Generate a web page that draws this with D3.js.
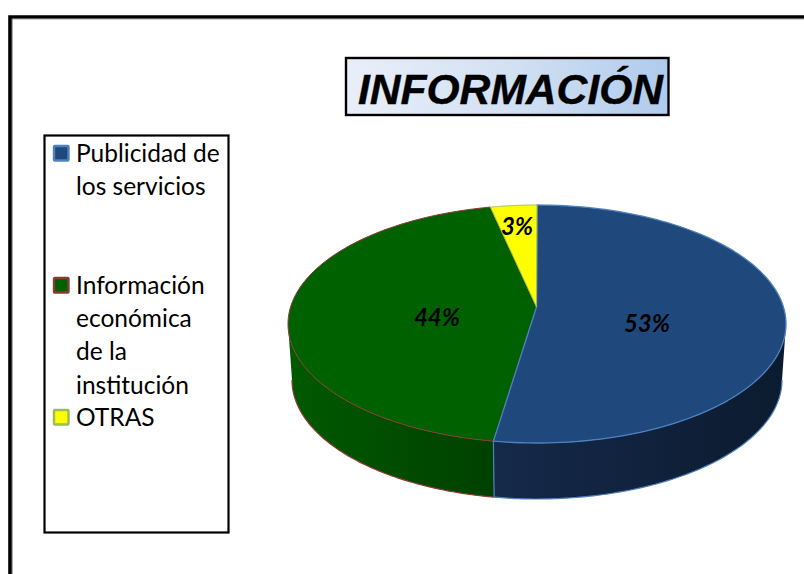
<!DOCTYPE html>
<html>
<head>
<meta charset="utf-8">
<script src="https://cdn.jsdelivr.net/npm/d3@7/dist/d3.min.js"></script>
<style>html,body{margin:0;padding:0;background:#fff;overflow:hidden}svg{display:block}</style>
</head>
<body>
<svg id="c" width="804" height="574"></svg>
<script>
const titleText = "INFORMACIÓN";
const categories = ["Publicidad de los servicios", "Información económica de la institución", "OTRAS"];
const legendLines = [["Publicidad de", "los servicios"], ["Información", "económica", "de la", "institución"], ["OTRAS"]];
const values = [52.8, 44.2, 3.0];
const topColors = ["#1f497d", "#006100", "#ffff00"];
const edgeColors = ["#4f81bd", "#8c3a36", "#9bbb59"];
const sideStops = [["#15294a", "#0b1b2f"], ["#005a00", "#004000"], ["#cccc00", "#999900"]];
const labelPos = [[647, 324], [437, 318], [517, 227]];

const svg = d3.select("#c");
const defs = svg.append("defs");

// Page frame
svg.append("path").attr("d", "M10,580V17H810").attr("fill", "none").attr("stroke", "#000").attr("stroke-width", 3.6);
svg.append("path").attr("d", "M12.4,580V19H810").attr("fill", "none").attr("stroke", "#888").attr("stroke-width", 0.8);

// Title
const tg = defs.append("linearGradient").attr("id", "tg");
tg.append("stop").attr("offset", 0).attr("stop-color", "#e9eff9");
tg.append("stop").attr("offset", 0.5).attr("stop-color", "#d3e1f3");
tg.append("stop").attr("offset", 1).attr("stop-color", "#b0cbec");
svg.append("rect").attr("x", 346).attr("y", 58).attr("width", 322.5).attr("height", 57)
  .attr("fill", "url(#tg)").attr("stroke", "#000").attr("stroke-width", 2.4);
svg.append("text").attr("x", 510.5).attr("y", 104).attr("text-anchor", "middle")
  .attr("font-family", "Liberation Sans").attr("font-weight", "bold").attr("font-style", "italic")
  .attr("font-size", 42.6).attr("stroke", "#000").attr("stroke-width", 0.4).attr("fill", "#000").text(titleText);

// Legend
svg.append("rect").attr("x", 44.5).attr("y", 135.5).attr("width", 184).attr("height", 397)
  .attr("fill", "#fff").attr("stroke", "#000").attr("stroke-width", 2.2);
const lineH = 33.2;
const legendBase = [162, 294, 426];
categories.forEach((c, i) => {
  svg.append("rect").attr("x", 54).attr("y", legendBase[i] - 16).attr("width", 14.5).attr("height", 14.5)
    .attr("fill", topColors[i]).attr("stroke", edgeColors[i]).attr("stroke-width", 2.4)
    .attr("rx", 0.8);
  legendLines[i].forEach((t, j) => {
    svg.append("text").attr("x", 76).attr("y", legendBase[i] + j * lineH)
      .attr("font-family", "Lato").attr("font-size", 24.5).attr("fill", "#000").text(t);
  });
});

// Pie, projected onto ellipses
const pie = d3.pie().sort(null).value(d => d)(values);
const topE = { cx: 537, cy: 324, rx: 249, ry: 119 };
const botE = { cx: 537, cy: 380, rx: 245, ry: 119 };
const apex = [536.5, 307];
const P = (e, a) => [e.cx + e.rx * Math.sin(a), e.cy - e.ry * Math.cos(a)];
const arcPts = (e, a0, a1) => d3.range(0, 121).map(k => P(e, a0 + (a1 - a0) * k / 120));
const line = d3.line();

// Side walls (front half only)
const frontA = Math.PI / 2, frontB = 3 * Math.PI / 2;
pie.forEach((s, i) => {
  const a0 = Math.max(s.startAngle, frontA), a1 = Math.min(s.endAngle, frontB);
  if (a1 <= a0) return;
  const id = "side" + i;
  const g = defs.append("linearGradient").attr("id", id);
  g.append("stop").attr("offset", 0).attr("stop-color", sideStops[i][0]);
  g.append("stop").attr("offset", 1).attr("stop-color", sideStops[i][1]);
  const pts = arcPts(topE, a0, a1).concat(arcPts(botE, a1, a0));
  svg.append("path").attr("d", line(pts) + "Z").attr("fill", `url(#${id})`);
  svg.append("path").attr("d", line(arcPts(botE, a0, a1))).attr("fill", "none")
    .attr("stroke", edgeColors[i]).attr("stroke-width", 1.2);
});
// Wall seam between the two front slices
svg.append("path").attr("d", line([P(topE, pie[0].endAngle), P(botE, pie[0].endAngle)]))
  .attr("fill", "none").attr("stroke", edgeColors[0]).attr("stroke-width", 1.2);

// Top faces: green first so the blue and yellow edges stay visible on the seams
[1, 0, 2].forEach(i => {
  const s = pie[i];
  const pts = [apex].concat(arcPts(topE, s.startAngle, s.endAngle));
  svg.append("path").attr("d", line(pts) + "Z").attr("fill", topColors[i])
    .attr("stroke", edgeColors[i]).attr("stroke-width", i === 0 ? 1.3 : 1).attr("stroke-linejoin", "round");
});

// Labels
pie.forEach((s, i) => {
  svg.append("text").attr("x", labelPos[i][0]).attr("y", labelPos[i][1]).attr("dy", "0.35em")
    .attr("text-anchor", "middle").attr("font-family", "Lato").attr("font-weight", "bold")
    .attr("font-style", "italic").attr("font-size", 24).attr("fill", "#000")
    .text(d3.format(".0f")(values[i]) + "%");
});
</script>
</body>
</html>
